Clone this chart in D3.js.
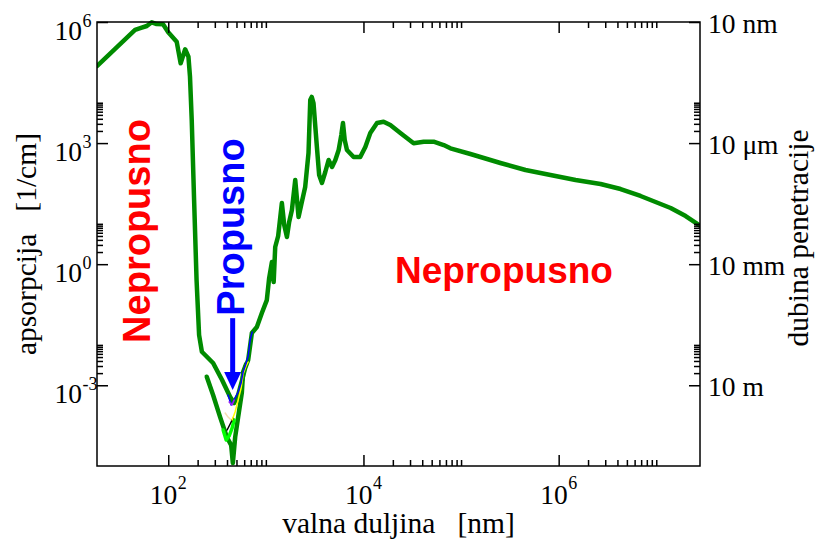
<!DOCTYPE html>
<html>
<head>
<meta charset="utf-8">
<script src="https://cdn.jsdelivr.net/npm/d3@7"></script>
<style>
  body { margin: 0; background: #fff; }
  svg { display: block; }
</style>
</head>
<body>
<div id="chart"></div>
<script>
// absorption of water (wavelength in nm, absorption in 1/cm)
const waterWl = [18.6, 45.7, 53.5, 60.3, 67.8, 76.2, 88.5, 100, 122, 134, 149, 161, 167, 174, 184, 195, 207, 221, 288, 356,
  431, 473, 520, 571, 614, 659, 719, 809, 910, 1023, 1081, 1153, 1202, 1247, 1337, 1459, 1542, 1644, 1734, 1849,
  2000, 2163, 2301, 2529, 2735, 2851, 2951, 3076, 3334, 3516, 3758, 4064, 4395, 4764, 5152, 5572, 5929, 6166, 6427, 6776,
  7925, 9268, 10450, 11750, 13770, 16070, 18840, 23880, 32660, 41400, 52360, 66370, 77800, 124700, 252900, 457000, 824000,
  1490000, 2685000, 4310000, 6900000, 9840000, 14030000, 20000000, 28500000];
const waterAbs = [8.1e4, 6.34e5, 7.23e5, 7.96e5, 9.84e5, 8.91e5, 8.77e5, 5.56e5, 3.25e5, 9.48e4, 2.11e5, 1.38e5, 4.42e4, 3.73e3, 38.9, 0.406, 0.0176, 6.78e-3, 3.56e-3, 1.35e-3,
  5.12e-4, 3.63e-4, 5.73e-4, 1.35e-3, 2.67e-3, 4.22e-3, 0.0197, 0.0277, 0.0617, 0.129, 0.454, 1.13, 0.361, 2.66, 4.99, 32.7, 9.33, 4.71, 11.1, 22.0,
  122, 14.7, 29.2, 81.7, 568, 1.17e4, 1.39e4, 9.84e3, 800, 162, 103, 192, 381, 256, 381, 675, 1585, 3148, 1191, 675,
  452, 452, 800, 1778, 3148, 3388, 2805, 1778, 989, 1081, 1081, 895, 743, 536, 321, 215, 162,
  122, 96.8, 72.8, 48.9, 34.7, 24.7, 15.6, 8.81];

// other data sets in the visible window
const innerWl = [248, 288, 340, 398, 441, 459, 485, 520, 567, 585, 628];
const innerAbs = [1.63e-3, 5.73e-4, 1.63e-4, 5.22e-5, 3.30e-5, 1.18e-5, 5.22e-5, 1.63e-4, 6.43e-4, 2.13e-3, 3.36e-3];
const blueWl = [410, 441, 473, 520, 558, 585, 614, 659, 690, 724];
const blueAbs = [5.73e-4, 3.24e-4, 4.31e-4, 6.81e-4, 1.14e-3, 2.13e-3, 3.00e-3, 5.31e-3, 0.0132, 0.0208];
const yellowWl = [451, 484, 520, 558, 585, 628, 659];
const yellowAbs = [1.38e-4, 2.17e-4, 4.31e-4, 8.55e-4, 1.90e-3, 3.00e-3, 3.77e-3];
const limeWl = [365, 392, 420, 451, 473];
const limeAbs = [7.78e-5, 4.40e-5, 5.52e-5, 8.71e-5, 1.38e-4];
const blackWl = [401, 431, 462];
const blackAbs = [7.78e-5, 1.10e-4, 1.54e-4];
const purpleWl = [420, 451, 473];
const purpleAbs = [3.85e-4, 3.24e-4, 4.31e-4];
const wheatWl = [383, 410, 441];
const wheatAbs = [2.05e-4, 1.63e-4, 1.38e-4];

// ticks
const xMajor = [1e2, 1e4, 1e6];
const xMajorExp = ["2", "4", "6"];
const yMajor = [1e-3, 1, 1e3, 1e6];
const yMajorExp = ["-3", "0", "3", "6"];
const depthLabels = ["10 m", "10 mm", "10 \u03bcm", "10 nm"];
const minorK = [2, 3, 4, 5, 6, 7, 8, 9, 10];

// arrow under "Propusno" (wavelength, top, tip)
const arrowWl = 457, arrowTop = 0.046, arrowTip = 7.6e-4;

const W = 818, H = 539;
const L = 97, R = 700, T = 22, B = 466;
const serif = "'Liberation Serif', 'Times New Roman', serif";
const sans = "'Liberation Sans', Arial, sans-serif";
const gap = "\u00a0\u00a0\u00a0";

const svg = d3.select("#chart").append("svg").attr("width", W).attr("height", H);

const x = d3.scaleLog().domain([10 ** 1.27, 10 ** 7.448]).range([L, R]);
const y = d3.scaleLog().domain([1e-5, 1e6]).range([B, T]);

const xMinor = xMajor.flatMap((m) => minorK.map((k) => k * m)).filter((v) => v < x.domain()[1]);
const yMinor = yMajor.flatMap((m) => minorK.map((k) => k * m)).filter((v) => v < y.domain()[1]);

svg.append("clipPath").attr("id", "clip")
  .append("rect").attr("x", L).attr("y", T - 6).attr("width", R - L).attr("height", B - T + 12);

const line = d3.line().x((d) => x(d[0])).y((d) => y(d[1]));
const zip = (a, b) => a.map((v, i) => [v, b[i]]);

const plot = svg.append("g").attr("clip-path", "url(#clip)");
const series = [
  { wl: waterWl, ab: waterAbs, color: "#008b00", w: 4.5 },
  { wl: innerWl, ab: innerAbs, color: "#008b00", w: 4.5 },
  { wl: limeWl, ab: limeAbs, color: "#00ff00", w: 3.5 },
  { wl: wheatWl, ab: wheatAbs, color: "#f5deb3", w: 1.5 },
  { wl: blackWl, ab: blackAbs, color: "#000000", w: 1.5 },
  { wl: yellowWl, ab: yellowAbs, color: "#ffff00", w: 1.5 },
  { wl: blueWl, ab: blueAbs, color: "#0000ff", w: 1.5 },
  { wl: purpleWl, ab: purpleAbs, color: "#a020f0", w: 1.5 },
];
plot.selectAll("path")
  .data(series)
  .join("path")
  .attr("d", (s) => line(zip(s.wl, s.ab)))
  .attr("fill", "none")
  .attr("stroke", (s) => s.color)
  .attr("stroke-width", (s) => s.w)
  .attr("stroke-linejoin", "round")
  .attr("stroke-linecap", "round");

// axes: ticks point inward on all four sides
function ticks(axis, tr, vals, size) {
  const g = svg.append("g").attr("transform", tr)
    .call(axis.tickValues(vals).tickSize(-size).tickFormat(""));
  g.select(".domain").remove();
  g.selectAll("line").attr("stroke", "#000").attr("stroke-width", 1.5);
}
ticks(d3.axisBottom(x), `translate(0,${B})`, xMajor, 11);
ticks(d3.axisBottom(x), `translate(0,${B})`, xMinor, 6);
ticks(d3.axisTop(x), `translate(0,${T})`, xMajor, 11);
ticks(d3.axisTop(x), `translate(0,${T})`, xMinor, 6);
ticks(d3.axisLeft(y), `translate(${L},0)`, yMajor, 11);
ticks(d3.axisLeft(y), `translate(${L},0)`, yMinor, 6);
ticks(d3.axisRight(y), `translate(${R},0)`, yMajor, 11);
ticks(d3.axisRight(y), `translate(${R},0)`, yMinor, 6);
svg.append("rect").attr("x", L).attr("y", T).attr("width", R - L).attr("height", B - T)
  .attr("fill", "none").attr("stroke", "#000").attr("stroke-width", 1.5);

// tick labels
const xl = svg.append("g").attr("font-family", serif).attr("fill", "#000");
xMajor.forEach((v, i) => {
  xl.append("text").attr("x", x(v) + 9).attr("y", B + 38).attr("text-anchor", "end")
    .attr("font-size", 27.5).text("10");
  xl.append("text").attr("x", x(v) + 9.5).attr("y", B + 23).attr("font-size", 18).text(xMajorExp[i]);
});
yMajor.forEach((v, i) => {
  xl.append("text").attr("x", 82).attr("y", y(v) + 18).attr("text-anchor", "end")
    .attr("font-size", 27.5).text("10");
  xl.append("text").attr("x", 82.5).attr("y", y(v) + 5).attr("font-size", 18).text(yMajorExp[i]);
  xl.append("text").attr("x", R + 8).attr("y", y(v) + 10.5).attr("font-size", 27.5).text(depthLabels[i]);
});

// axis titles
const titles = svg.append("g").attr("font-family", serif).attr("font-size", 29.5)
  .attr("text-anchor", "middle");
titles.append("text").attr("x", (L + R) / 2).attr("y", 533).text("valna duljina" + gap + "[nm]");
titles.append("text").attr("transform", `translate(36,${(T + B) / 2}) rotate(-90)`).text("apsorpcija" + gap + "[1/cm]");
titles.append("text").attr("transform", `translate(808,${(T + B) / 2 - 6}) rotate(-90)`).text("dubina penetracije");

// annotations
const ann = svg.append("g").attr("font-family", sans).attr("font-weight", "bold")
  .attr("font-size", 38).attr("text-anchor", "middle");
ann.append("text").attr("transform", "translate(150,231) rotate(-90)").attr("fill", "#ff0000").text("Nepropusno");
ann.append("text").attr("transform", "translate(244,227) rotate(-90)").attr("fill", "#0000ff").text("Propusno");
ann.append("text").attr("x", 504).attr("y", 283).attr("font-size", 37).attr("fill", "#ff0000").text("Nepropusno");

const ax = x(arrowWl);
svg.append("line").attr("x1", ax).attr("x2", ax).attr("y1", y(arrowTop)).attr("y2", y(arrowTip) - 16)
  .attr("stroke", "#0000ff").attr("stroke-width", 5);
svg.append("path")
  .attr("d", `M${ax - 8.5},${y(arrowTip) - 18}L${ax + 8.5},${y(arrowTip) - 18}L${ax},${y(arrowTip)}Z`)
  .attr("fill", "#0000ff");
</script>
</body>
</html>
